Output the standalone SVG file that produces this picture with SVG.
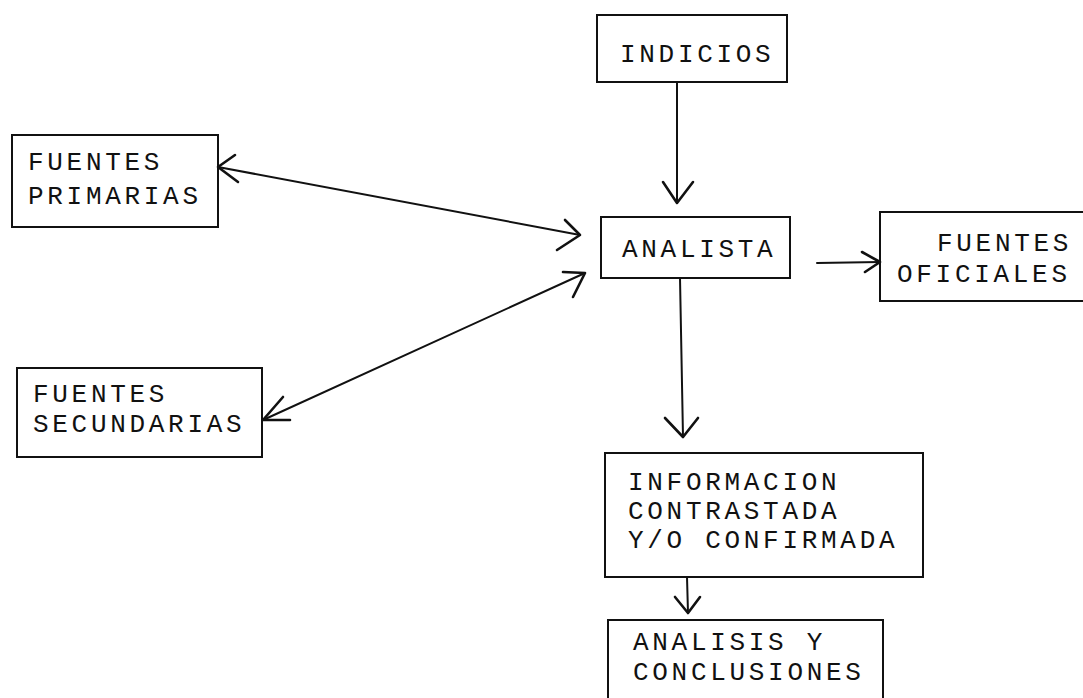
<svg xmlns="http://www.w3.org/2000/svg" width="1083" height="698" viewBox="0 0 1083 698">
<style>
.box{fill:none;stroke:#111;stroke-width:2}
.t{font-family:"Courier New","Liberation Mono",monospace;font-size:26px;letter-spacing:3.7px;fill:#111}
.c{fill:none;stroke:#111;stroke-width:2;stroke-linecap:round;stroke-linejoin:round}
.h{fill:none;stroke:#111;stroke-width:2.6;stroke-linecap:round;stroke-linejoin:round}
</style>
<rect width="1083" height="698" fill="#fff"/>
<g id="indicios">
<rect class="box" x="597" y="15" width="190" height="67"/>
<text class="t" x="620" y="62">INDICIOS</text>
</g>
<g id="analista">
<rect class="box" x="601" y="217" width="189" height="61"/>
<text class="t" x="622" y="257">ANALISTA</text>
</g>
<g id="fuentes-oficiales">
<rect class="box" x="880" y="212" width="230" height="89"/>
<text class="t" x="937" y="251">FUENTES</text>
<text class="t" x="897" y="282">OFICIALES</text>
</g>
<g id="fuentes-primarias">
<rect class="box" x="12" y="135" width="206" height="92"/>
<text class="t" x="28" y="170">FUENTES</text>
<text class="t" x="28" y="204">PRIMARIAS</text>
</g>
<g id="fuentes-secundarias">
<rect class="box" x="17" y="368" width="245" height="89"/>
<text class="t" x="33" y="402">FUENTES</text>
<text class="t" x="33" y="432">SECUNDARIAS</text>
</g>
<g id="informacion">
<rect class="box" x="605" y="453" width="318" height="124"/>
<text class="t" x="628" y="490">INFORMACION</text>
<text class="t" x="628" y="519">CONTRASTADA</text>
<text class="t" x="628" y="548">Y/O CONFIRMADA</text>
</g>
<g id="analisis">
<rect class="box" x="608" y="620" width="275" height="100"/>
<text class="t" x="633" y="650">ANALISIS Y</text>
<text class="t" x="633" y="680">CONCLUSIONES</text>
</g>
<g id="connectors">
<path class="c" d="M677 82 L677 203"/>
<path class="h" d="M663 182 L677 203 L693 182"/>
<path class="c" d="M680 278 L683 437"/>
<path class="h" d="M665 418 L683 437 L698 418"/>
<path class="c" d="M687 577 L688 613"/>
<path class="h" d="M675 597 L688 613 L700 597"/>
<path class="c" d="M817 263 L880 262"/>
<path class="h" d="M862 252 L880 262 L865 272"/>
<path class="c" d="M218 167 L580 235"/>
<path class="h" d="M235 155 L218 167 L238 182"/>
<path class="h" d="M565 220 L580 235 L557 250"/>
<path class="c" d="M263 420 L585 273"/>
<path class="h" d="M283 397 L263 420 L290 420"/>
<path class="h" d="M563 272 L585 273 L573 297"/>
</g>
</svg>
